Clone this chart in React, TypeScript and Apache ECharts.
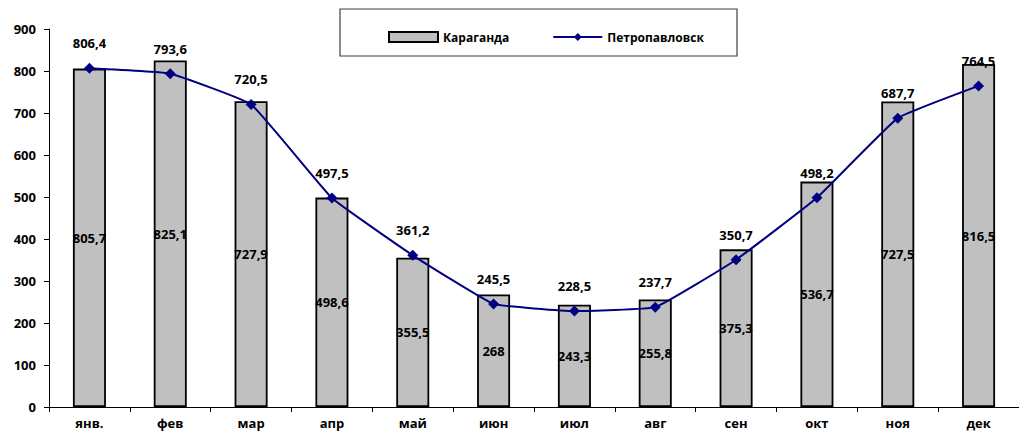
import React, { useEffect, useRef } from "react";
import * as echarts from "echarts";

const months = ["янв.", "фев", "мар", "апр", "май", "июн", "июл", "авг", "сен", "окт", "ноя", "дек"];
const karaganda = [805.7, 825.1, 727.9, 498.6, 355.5, 268, 243.3, 255.8, 375.3, 536.7, 727.5, 816.5];
const petropavlovsk = [806.4, 793.6, 720.5, 497.5, 361.2, 245.5, 228.5, 237.7, 350.7, 498.2, 687.7, 764.5];
const seriesNames = ["Караганда", "Петропавловск"];

const FONT = "Open Sans";
const fmt = (v: number) => String(v).replace(".", ",");

export default function App() {
  const ref = useRef<HTMLDivElement>(null);
  useEffect(() => {
    if (!ref.current) return;
    const chart = echarts.init(ref.current, undefined, { renderer: "svg" });
    chart.setOption({
      animation: false,
      backgroundColor: "#ffffff",
      textStyle: { fontFamily: FONT },
      grid: { left: 49, top: 29, bottom: 28, right: -9, containLabel: false },
      graphic: [
        {
          type: "rect",
          shape: { x: 340, y: 9, width: 397, height: 47 },
          style: { fill: "#ffffff", stroke: "#404040", lineWidth: 1.2 },
          z: -1,
        },
      ],
      legend: {
        left: 383,
        top: 26,
        itemGap: 43,
        itemWidth: 49,
        itemHeight: 10,
        textStyle: { fontFamily: FONT, fontWeight: "bold", fontSize: 12, color: "#000" },
        data: [
          { name: seriesNames[0], icon: "rect" },
          { name: seriesNames[1] },
        ],
      },
      xAxis: {
        type: "category",
        data: months,
        axisLine: { lineStyle: { color: "#000", width: 1 } },
        axisTick: { show: true, length: 5, lineStyle: { color: "#000" } },
        axisLabel: { color: "#000", fontWeight: "bold", fontSize: 13, fontFamily: FONT, margin: 9 },
      },
      yAxis: {
        type: "value",
        min: 0,
        max: 900,
        interval: 100,
        splitLine: { show: false },
        axisLine: { show: true, lineStyle: { color: "#000", width: 1 } },
        axisTick: { show: true, length: 5, lineStyle: { color: "#000" } },
        axisLabel: { color: "#000", fontWeight: "bold", fontSize: 13, fontFamily: FONT, margin: 13 },
      },
      series: [
        {
          name: seriesNames[0],
          type: "bar",
          data: karaganda,
          barWidth: 33,
          itemStyle: { color: "#c0c0c0", borderColor: "#000", borderWidth: 1.8 },
          label: {
            show: true,
            position: "inside",
            color: "#000",
            fontWeight: "bold",
            fontSize: 13,
            fontFamily: FONT,
            formatter: (p: any) => fmt(p.value),
          },
        },
        {
          name: seriesNames[1],
          type: "line",
          data: petropavlovsk,
          smooth: 0.1,
          symbol: "diamond",
          symbolSize: 11,
          lineStyle: { color: "#000080", width: 2 },
          itemStyle: { color: "#000080" },
          label: {
            show: true,
            position: "top",
            distance: 13,
            color: "#000",
            fontWeight: "bold",
            fontSize: 13,
            fontFamily: FONT,
            formatter: (p: any) => fmt(p.value),
          },
          z: 3,
        },
      ],
    });
    return () => chart.dispose();
  }, []);
  return (
    <div
      ref={ref}
      style={{ position: "absolute", left: 0, top: 0, width: 1019, height: 435, overflow: "hidden" }}
    />
  );
}
